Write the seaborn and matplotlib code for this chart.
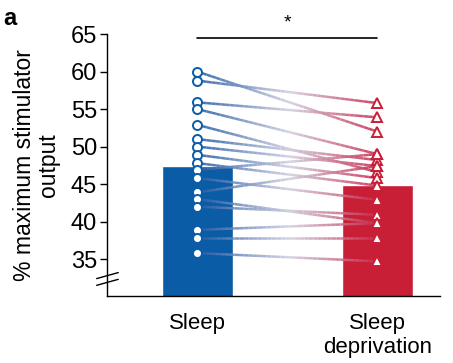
import numpy as np
import pandas as pd
import seaborn as sns
import matplotlib.pyplot as plt
from matplotlib.collections import LineCollection
from matplotlib.colors import LinearSegmentedColormap

# data
conditions = ["Sleep", "Sleep\ndeprivation"]
bar_means = [47.4, 44.9]
sleep_vals = [60, 58.8, 55.9, 55, 52.9, 51, 50, 48.9, 47.8, 46.9, 45.8, 43.9, 43, 42, 38.9, 37.8, 35.8]
sd_vals = [52, 55.8, 53.9, 49, 46.6, 48.2, 47.4, 45.8, 44.8, 49, 42.9, 47.4, 39.8, 40.9, 39.8, 37.8, 34.7]
yticks = [35, 40, 45, 50, 55, 60, 65]

blue = "#0b5ca6"
red = "#c81e36"

sns.set_style("ticks")
plt.rcParams['font.family'] = ['Liberation Sans', 'DejaVu Sans']
plt.rcParams['text.color'] = 'black'
plt.rcParams['xtick.color'] = 'black'
plt.rcParams['ytick.color'] = 'black'
plt.rcParams['axes.labelcolor'] = 'black'

fig = plt.figure(figsize=(4.53, 3.63), dpi=100)
ax = fig.add_axes([0.236, 0.185, 0.735, 0.721])

df = pd.DataFrame({"condition": conditions, "value": bar_means})
sns.barplot(data=df, x="condition", y="value", hue="condition",
            palette=[blue, red], width=0.39, saturation=1, ax=ax, legend=False)

# paired lines with a blue -> pale -> red gradient
cmap = LinearSegmentedColormap.from_list("pair", ["#2a5fa6", "#d2d0e2", "#c8284a"])
t = np.linspace(0, 1, 40)
for a, b in zip(sleep_vals, sd_vals):
    ys = a + (b - a) * t
    pts = np.column_stack([t, ys]).reshape(-1, 1, 2)
    segs = np.concatenate([pts[:-1], pts[1:]], axis=1)
    lc = LineCollection(segs, colors=cmap(t[:-1]), linewidths=1.8, alpha=0.9, zorder=3)
    ax.add_collection(lc)

ax.plot([0] * len(sleep_vals), sleep_vals, "o", ms=6.5, mfc="white", mec=blue, mew=1.4,
        ls="none", zorder=4)
ax.plot([1] * len(sd_vals), sd_vals, "^", ms=7, mfc="white", mec=red, mew=1.4,
        ls="none", zorder=4)

ax.set_xlim(-0.503, 1.347)
ax.set_ylim(30.1, 65)
ax.set_yticks(yticks)
ax.tick_params(axis="y", labelsize=17, length=5, width=1, direction="out", pad=2)
ax.tick_params(axis="x", labelsize=16, length=0, pad=12)
ax.set_xlabel("")
ax.set_ylabel("% maximum stimulator\noutput", fontsize=16.5, labelpad=8, linespacing=1.05)
sns.despine(ax=ax)
for s in ["left", "bottom"]:
    ax.spines[s].set_linewidth(1)
    ax.spines[s].set_color("black")

# axis break marks
for yb in [31.9, 32.8]:
    ax.plot([-0.56, -0.44], [yb - 0.4, yb + 0.4], color="black", lw=1, clip_on=False)

# significance bar
ax.plot([0, 1], [64.5, 64.5], color="black", lw=1.2, clip_on=False)
ax.text(0.5, 65.3, "*", ha="center", va="bottom", fontsize=14, clip_on=False)

fig.text(0.008, 0.948, "a", fontsize=17, fontweight="bold", va="center")

fig.savefig("out.png", dpi=100)
